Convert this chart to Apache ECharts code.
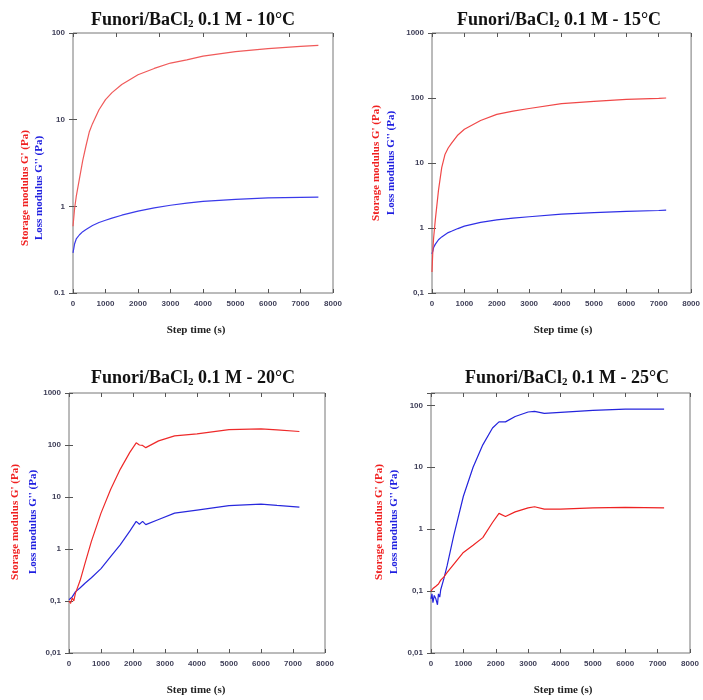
<!DOCTYPE html>
<html><head><meta charset="utf-8">
<script src="https://cdn.jsdelivr.net/npm/echarts@6/dist/echarts.min.js"></script>
<style>html,body{margin:0;padding:0;background:#fff}#c{width:703px;height:700px}</style>
</head><body><div id="c"></div>
<script>
// ---- data ----
const titles = ['10°C','15°C','20°C','25°C'];
const t10  = [0,50,100,200,300,400,500,600,800,1000,1200,1500,2000,2500,3000,3500,4000,5000,6000,7000,7550];
const gp10 = [0.59,0.95,1.3,2.1,3.4,5.0,7.2,9.0,13,17,20.5,25.5,33,39,45,49,54,61,66,70,72];
const gs10 = [0.29,0.37,0.42,0.47,0.51,0.54,0.57,0.6,0.65,0.69,0.73,0.79,0.88,0.96,1.03,1.09,1.14,1.2,1.25,1.27,1.28];
const t15  = [0,30,50,100,200,300,400,500,600,800,1000,1500,2000,2500,3000,4000,5000,6000,7000,7230];
const gp15 = [0.21,0.5,0.7,1.3,3.8,8.5,13.5,17,20,27,33,45,56,63,69,82,89,95,99,100];
const gs15 = [0.4,0.45,0.5,0.56,0.66,0.73,0.79,0.85,0.89,0.98,1.07,1.22,1.33,1.42,1.49,1.64,1.73,1.8,1.86,1.89];
const t20  = [0,50,100,150,200,350,500,700,1000,1300,1600,1900,2100,2200,2300,2400,2800,3300,4000,5000,6000,6500,7200];
const gp20 = [0.1,0.09,0.115,0.1,0.14,0.25,0.53,1.4,4.9,14,34,72,110,100,98,89,120,150,163,198,205,196,182];
const gs20 = [0.106,0.11,0.12,0.13,0.15,0.18,0.22,0.28,0.42,0.71,1.2,2.2,3.4,3.0,3.4,2.95,3.7,4.9,5.6,6.8,7.3,6.9,6.4];
const t25  = [0,30,60,100,150,200,230,270,300,400,500,700,1000,1300,1600,1900,2100,2300,2600,3000,3200,3500,4000,5000,6000,7200];
const gp25 = [0.1,0.095,0.11,0.105,0.12,0.12,0.13,0.14,0.15,0.17,0.2,0.27,0.42,0.55,0.73,1.28,1.8,1.6,1.9,2.2,2.3,2.1,2.1,2.2,2.25,2.2];
const gs25 = [0.075,0.09,0.065,0.085,0.075,0.06,0.09,0.08,0.105,0.16,0.26,0.78,3.4,10,23,43,54,54,66,78,80,74,77,83,87,87];
const yMin = [0.1,0.1,0.01,0.01];
const yMax = [100,1000,1000,158];
const topTickStep = [8000/6,1000,1000,1000];

// ---- layout ----
const grids = [
  {left:73, top:33, width:260, height:260},
  {left:432, top:33, width:260, height:260},
  {left:69, top:393, width:256, height:260},
  {left:431, top:393, width:259, height:260}
];
const titlePos = [[193,20],[559,20],[193,378],[567,378]];
const xNamePos = [[196,330],[563,330],[196,690],[563,690]];
const yNamePos = [[25,39,188],[376,391,163],[15,33,522],[379,394,522]];
const redL = ['#f05a5a','#f04848','#ee2a2a','#ee2222'];
const blueL = ['#3a3aea','#2f2fe6','#2828dd','#2424dd'];
const sets = [[t10,gp10,gs10],[t15,gp15,gs15],[t20,gp20,gs20],[t25,gp25,gs25]];

const tickLab = {fontFamily:'Liberation Sans, Arial, sans-serif', fontSize:8, fontWeight:'bold', color:'#3f3f58'};
function yFmt(i){
  return function(v){
    const l = Math.log10(v), r = Math.round(l);
    if (Math.abs(l-r) > 1e-6) return '';
    const s = ({'-2':'0.01','-1':'0.1','0':'1','1':'10','2':'100','3':'1000'})[r];
    return i===0 ? s : s.replace('.', ',');
  };
}
const xAxis=[], yAxis=[], series=[], graphic=[];
grids.forEach((g,i)=>{
  const common = {gridIndex:i, type:'value', min:0, max:8000, splitLine:{show:false}, axisLine:{show:false}};
  xAxis.push(Object.assign({}, common, {interval:1000, position:'bottom', axisTick:{inside:true,length:4,lineStyle:{color:'#555'}}, axisLabel:Object.assign({margin:7, formatter:v=>String(v)}, tickLab)}));
  xAxis.push(Object.assign({}, common, {interval:topTickStep[i], position:'top', axisTick:{inside:true,length:4,lineStyle:{color:'#555'}}, axisLabel:{show:false}}));
  const yc = {gridIndex:i, type:'log', logBase:10, min:yMin[i], max:yMax[i], splitLine:{show:false}, axisLine:{show:false}, minorTick:{show:false}};
  yAxis.push(Object.assign({}, yc, {position:'left', axisTick:{inside:true,length:4,lineStyle:{color:'#555'}}, axisLabel:Object.assign({margin:8, formatter:yFmt(i)}, tickLab)}));
  yAxis.push(Object.assign({}, yc, {position:'right', axisTick:{inside:true,length:4,lineStyle:{color:'#555'}}, axisLabel:{show:false}}));
  const [tt, gp, gs] = sets[i];
  series.push({type:'line', xAxisIndex:2*i, yAxisIndex:2*i, data:tt.map((t,k)=>[t,gs[k]]), showSymbol:false, lineStyle:{color:blueL[i], width:1.2}, animation:false, z:3});
  series.push({type:'line', xAxisIndex:2*i, yAxisIndex:2*i, data:tt.map((t,k)=>[t,gp[k]]), showSymbol:false, lineStyle:{color:redL[i], width:1.2}, animation:false, z:4});
  graphic.push({type:'text', x:titlePos[i][0], y:titlePos[i][1], style:{
    text:'Funori/BaCl{s|2} 0.1 M - '+titles[i], textAlign:'center', textVerticalAlign:'middle',
    font:'bold 18px "Liberation Serif", serif', fill:'#111',
    rich:{s:{fontSize:11, fontWeight:'bold', fontFamily:'Liberation Serif', verticalAlign:'bottom', padding:[8,0,0,0], fill:'#111'}}}});
  graphic.push({type:'text', x:xNamePos[i][0], y:xNamePos[i][1], style:{text:'Step time (s)', textAlign:'center', textVerticalAlign:'middle', font:'bold 11px "Liberation Serif", serif', fill:'#222'}});
  graphic.push({type:'text', x:yNamePos[i][0], y:yNamePos[i][2], rotation:Math.PI/2, style:{text:"Storage modulus G' (Pa)", textAlign:'center', textVerticalAlign:'middle', font:'bold 11px "Liberation Serif", serif', fill:'#f02020'}});
  graphic.push({type:'text', x:yNamePos[i][1], y:yNamePos[i][2], rotation:Math.PI/2, style:{text:"Loss modulus G'' (Pa)", textAlign:'center', textVerticalAlign:'middle', font:'bold 11px "Liberation Serif", serif', fill:'#2020e0'}});
});
const chart = echarts.init(document.getElementById('c'), null, {renderer:'canvas'});
chart.setOption({
  animation:false,
  backgroundColor:'#fff',
  grid: grids.map(g=>Object.assign({show:true, borderColor:'#777', borderWidth:1, containLabel:false}, g)),
  xAxis, yAxis, series, graphic
});
</script></body></html>
